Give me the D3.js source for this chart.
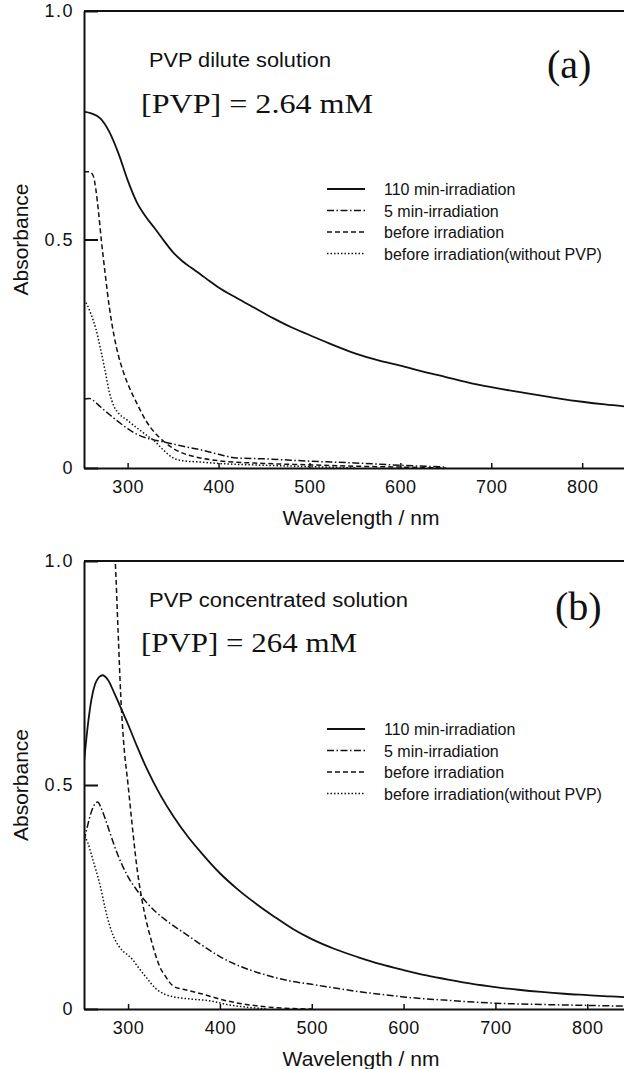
<!DOCTYPE html>
<html>
<head>
<meta charset="utf-8">
<script src="https://cdn.jsdelivr.net/npm/d3@7"></script>
<style>
  body { margin: 0; background: #fff; }
  svg { display: block; }
  .sans { font-family: "Liberation Sans", Arial, Helvetica, sans-serif; }
  .serif { font-family: "Liberation Serif", "Times New Roman", Times, serif; }
</style>
</head>
<body>
<svg id="chart" width="624" height="1069"></svg>
<script>
// series names and their line styles (same order in both panels)
var seriesNames = ["110 min-irradiation", "5 min-irradiation", "before irradiation", "before irradiation(without PVP)"];
var dashes = [null, "7,2.5,1.5,2.5", "5,3", "1.5,2"];
var yTicks = [0, 0.5, 1.0];
var xTicks = [300, 400, 500, 600, 700, 800];

// (a) dilute solution, [wavelength nm, absorbance]
var dilute110 = [[252,0.780],[260,0.776],[270,0.765],[280,0.735],[290,0.688],[300,0.630],[310,0.582],[320,0.550],[330,0.524],[340,0.497],[350,0.472],[360,0.453],[370,0.438],[380,0.424],[390,0.409],[400,0.395],[420,0.372],[440,0.350],[460,0.328],[480,0.308],[500,0.291],[525,0.270],[550,0.251],[575,0.236],[600,0.224],[625,0.211],[650,0.199],[675,0.187],[700,0.177],[725,0.168],[750,0.160],[775,0.152],[800,0.145],[825,0.139],[850,0.134]];
var dilute5 = [[252,0.151],[258,0.152],[262,0.148],[270,0.134],[280,0.117],[290,0.101],[300,0.086],[310,0.074],[320,0.066],[330,0.061],[340,0.057],[360,0.048],[380,0.040],[400,0.030],[420,0.022],[450,0.020],[500,0.015],[550,0.011],[600,0.006],[650,0.002]];
var diluteBefore = [[252,0.648],[258,0.648],[262,0.640],[265,0.610],[268,0.560],[271,0.500],[275,0.430],[280,0.350],[285,0.290],[290,0.245],[295,0.212],[300,0.185],[310,0.142],[320,0.104],[330,0.077],[340,0.058],[350,0.043],[360,0.033],[375,0.024],[400,0.016],[450,0.010],[500,0.007],[550,0.004],[600,0.002],[650,0.0]];
var diluteNoPVP = [[252,0.368],[256,0.355],[260,0.335],[265,0.305],[270,0.262],[275,0.215],[280,0.165],[285,0.135],[290,0.120],[300,0.104],[310,0.088],[320,0.073],[330,0.058],[340,0.038],[350,0.022],[360,0.016],[380,0.013],[400,0.010],[450,0.006],[500,0.003],[550,0.0]];

// (b) concentrated solution
var conc110 = [[252,0.550],[256,0.630],[260,0.690],[264,0.725],[268,0.740],[272,0.745],[278,0.735],[285,0.705],[290,0.682],[300,0.635],[310,0.585],[320,0.538],[335,0.478],[350,0.428],[365,0.385],[380,0.348],[400,0.303],[420,0.266],[440,0.234],[460,0.205],[480,0.178],[500,0.156],[525,0.134],[550,0.116],[575,0.100],[600,0.087],[625,0.075],[650,0.065],[675,0.056],[700,0.049],[725,0.043],[750,0.038],[775,0.034],[800,0.031],[825,0.028],[850,0.026]];
var conc5 = [[252,0.375],[256,0.410],[260,0.440],[264,0.458],[267,0.462],[270,0.452],[275,0.425],[280,0.395],[285,0.365],[290,0.338],[295,0.315],[300,0.295],[310,0.264],[320,0.238],[330,0.217],[340,0.200],[350,0.185],[360,0.171],[380,0.143],[400,0.117],[420,0.097],[450,0.076],[475,0.063],[500,0.055],[525,0.047],[550,0.039],[575,0.033],[600,0.027],[650,0.019],[700,0.013],[750,0.010],[800,0.008],[850,0.006]];
var concBefore = [[282,1.10],[286,1.00],[289,0.85],[292,0.70],[295,0.60],[300,0.50],[305,0.40],[310,0.31],[315,0.245],[320,0.195],[325,0.155],[330,0.120],[335,0.092],[340,0.075],[345,0.060],[350,0.050],[360,0.044],[370,0.039],[380,0.034],[400,0.022],[420,0.013],[440,0.007],[460,0.003],[480,0.001],[500,0.0]];
var concNoPVP = [[252,0.385],[256,0.372],[260,0.345],[265,0.310],[270,0.272],[275,0.225],[280,0.186],[285,0.158],[290,0.140],[295,0.128],[300,0.120],[305,0.110],[310,0.096],[320,0.070],[330,0.046],[340,0.033],[350,0.027],[370,0.022],[390,0.018],[410,0.009],[430,0.004],[450,0.0]];

var svg = d3.select("#chart");

var panels = [
  { id: "a", series: [dilute110, dilute5, diluteBefore, diluteNoPVP],
    xDomain: [252, 846], yRange: [468, 11],
    title: "PVP dilute solution", titleY: 67, titleW: 182,
    conc: "[PVP] = 2.64 mM", concY: 113, concW: 232,
    tag: "(a)", tagX: 547, tagY: 78,
    legendY: 189, xLabelY: 525 },
  { id: "b", series: [conc110, conc5, concBefore, concNoPVP],
    xDomain: [252, 840], yRange: [1009, 561],
    title: "PVP concentrated solution", titleY: 607, titleW: 259,
    conc: "[PVP] = 264 mM", concY: 652, concW: 216,
    tag: "(b)", tagX: 555, tagY: 620,
    legendY: 729, xLabelY: 1066 }
];

panels.forEach(function(p) {
  var x = d3.scaleLinear().domain(p.xDomain).range([84, 624]);
  var y = d3.scaleLinear().domain([0, 1]).range(p.yRange);
  var g = svg.append("g");

  g.append("clipPath").attr("id", "clip-" + p.id)
    .append("rect")
      .attr("x", 84).attr("y", y(1))
      .attr("width", 540).attr("height", y(0) - y(1));

  var line = d3.line()
    .x(function(d) { return x(d[0]); })
    .y(function(d) { return y(d[1]); })
    .curve(d3.curveMonotoneX);

  g.append("g").attr("clip-path", "url(#clip-" + p.id + ")")
    .selectAll("path")
    .data(p.series)
    .enter()
    .append("path")
      .attr("d", line)
      .attr("fill", "none")
      .attr("stroke", "#111")
      .attr("stroke-width", function(d, i) { return i == 0 ? 1.8 : 1.5; })
      .attr("stroke-dasharray", function(d, i) { return dashes[i]; });

  // x axis
  var xAxis = g.append("g")
    .attr("transform", "translate(0," + y(0) + ")")
    .call(d3.axisBottom(x).tickValues(xTicks).tickSizeInner(-5).tickSizeOuter(0).tickPadding(12));
  xAxis.select(".domain").attr("stroke", "#111").attr("stroke-width", 2);
  xAxis.selectAll(".tick line").attr("stroke", "#111").attr("stroke-width", 1.5);
  xAxis.selectAll("text").attr("class", "sans").attr("font-size", 18).attr("fill", "#111").attr("letter-spacing", 0.5);

  // y axis
  var yAxis = g.append("g")
    .attr("transform", "translate(84,0)")
    .call(d3.axisLeft(y).tickValues(yTicks).tickSizeInner(-14).tickSizeOuter(0).tickPadding(10)
      .tickFormat(function(d) { return d == 0 ? "0" : d3.format(".1f")(d); }));
  yAxis.select(".domain").attr("stroke", "#111").attr("stroke-width", 2);
  yAxis.selectAll(".tick line").attr("stroke", "#111").attr("stroke-width", 2);
  yAxis.selectAll("text").attr("class", "sans").attr("font-size", 18).attr("fill", "#111").attr("letter-spacing", 1.5);

  // top frame line
  g.append("line")
    .attr("x1", 84).attr("x2", 624)
    .attr("y1", y(1)).attr("y2", y(1))
    .attr("stroke", "#111").attr("stroke-width", 2);

  // axis titles
  g.append("text").attr("class", "sans")
    .attr("x", 361).attr("y", p.xLabelY)
    .attr("text-anchor", "middle").attr("font-size", 21).attr("fill", "#111")
    .text("Wavelength / nm");
  g.append("text").attr("class", "sans")
    .attr("transform", "translate(28," + y(0.5) + ") rotate(-90)")
    .attr("text-anchor", "middle").attr("font-size", 21).attr("fill", "#111")
    .text("Absorbance");

  // annotations
  g.append("text").attr("class", "sans")
    .attr("x", 149).attr("y", p.titleY)
    .attr("font-size", 20).attr("fill", "#111")
    .attr("textLength", p.titleW).attr("lengthAdjust", "spacingAndGlyphs")
    .text(p.title);
  g.append("text").attr("class", "serif")
    .attr("x", 141).attr("y", p.concY)
    .attr("font-size", 27).attr("fill", "#111")
    .attr("textLength", p.concW).attr("lengthAdjust", "spacingAndGlyphs")
    .text(p.conc);
  g.append("text").attr("class", "serif")
    .attr("x", p.tagX).attr("y", p.tagY)
    .attr("font-size", 40).attr("fill", "#111")
    .text(p.tag);

  // legend
  var legend = g.selectAll("g.legend")
    .data(seriesNames)
    .enter()
    .append("g")
      .attr("class", "legend")
      .attr("transform", function(d, i) { return "translate(0," + (p.legendY + i * 21.5) + ")"; });
  legend.append("line")
    .attr("x1", 327).attr("x2", 365)
    .attr("stroke", "#111")
    .attr("stroke-width", function(d, i) { return i == 0 ? 2 : 1.5; })
    .attr("stroke-dasharray", function(d, i) { return dashes[i]; });
  legend.append("text").attr("class", "sans")
    .attr("x", 384).attr("y", 6)
    .attr("font-size", 16).attr("fill", "#111")
    .text(function(d) { return d; });
});
</script>
</body>
</html>
